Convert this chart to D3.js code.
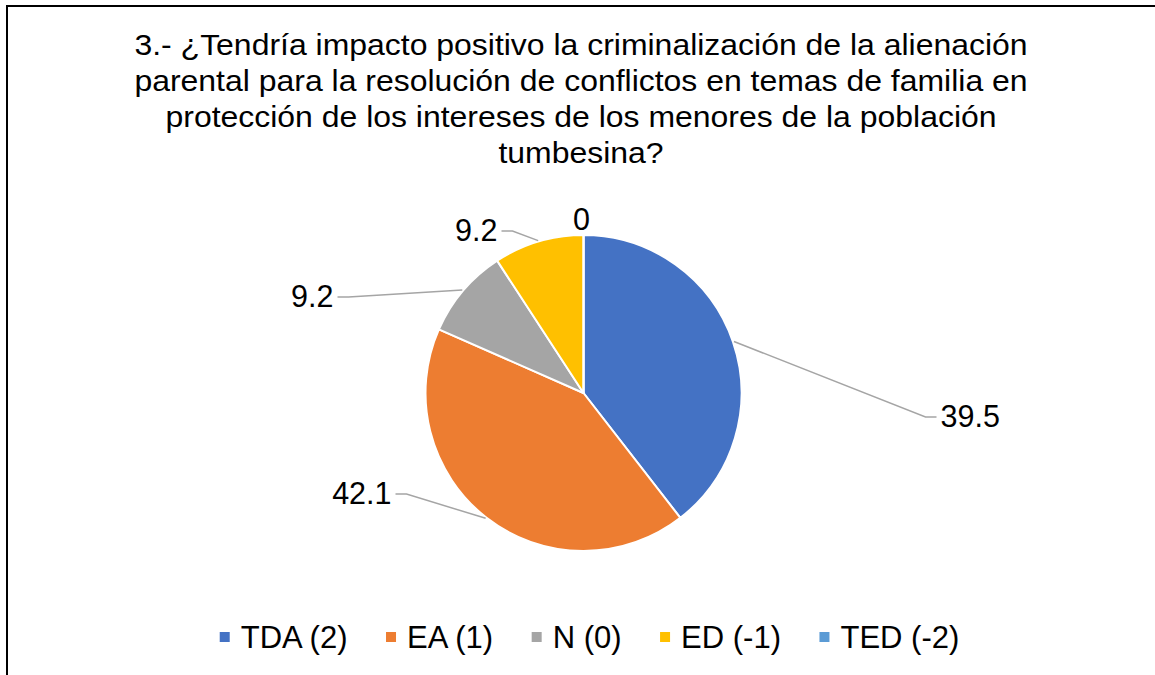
<!DOCTYPE html>
<html>
<head>
<meta charset="utf-8">
<script src="https://cdnjs.cloudflare.com/ajax/libs/d3/7.8.5/d3.min.js"></script>
<style>
    html, body { margin: 0; padding: 0; background: #fff; overflow: hidden; }
    svg { display: block; font-family: "Liberation Sans", Arial, sans-serif; }
</style>
</head>
<body>
<svg class="main" width="1155" height="675"></svg>
<script>
var categories = ["TDA (2)", "EA (1)", "N (0)", "ED (-1)", "TED (-2)"],
    values = [39.5, 42.1, 9.2, 9.2, 0],
    colors = ["#4472C4", "#ED7D31", "#A5A5A5", "#FFC000", "#5B9BD5"],
    titleLines = [
        "3.- ¿Tendría impacto positivo la criminalización de la alienación",
        "parental para la resolución de conflictos en temas de familia en",
        "protección de los intereses de los menores de la población",
        "tumbesina?"
    ];

var layout = {
    width: 1155,
    height: 675,
    cx: 583.5,
    cy: 393,
    radius: 158,
    titleSize: 30,
    titleStretch: 1.065,
    labelSize: 30.5,
    legendSize: 31
};

// label anchor (end of leader) relative to pie centre, per slice
var labelAnchors = [
    { x: 342, y: 24, side: "right" },
    { x: -177, y: 101, side: "left" },
    { x: -235, y: -96, side: "left" },
    { x: -71, y: -162, side: "left" },
    { x: -2, y: -173, side: "none" }
];

var svg = d3.select(".main");

// chart frame, only left & top edges are in view
svg.append("rect")
    .attr("x", 7)
    .attr("y", 6)
    .attr("width", 1300)
    .attr("height", 800)
    .attr("fill", "none")
    .attr("stroke", "#000")
    .attr("stroke-width", 2);

/**
 * Title
 */
svg.append("g")
    .selectAll("text")
    .data(titleLines)
    .enter()
    .append("text")
    .attr("transform", function(d, i) {
        return "translate(581," + (55 + i * 36) + ") scale(" + layout.titleStretch + ",1)";
    })
    .attr("text-anchor", "middle")
    .attr("font-size", layout.titleSize)
    .attr("fill", "#000")
    .text(function(d) { return d; });

/**
 * Pie
 */
var pie = d3.pie()
    .value(function(d) { return d; })
    .sort(null);

var arcs = pie(values);

var arc = d3.arc()
    .innerRadius(0)
    .outerRadius(layout.radius);

var chart = svg.append("g")
    .attr("transform", "translate(" + layout.cx + "," + layout.cy + ")");

chart.selectAll("path.slice")
    .data(arcs)
    .enter()
    .append("path")
    .attr("class", "slice")
    .attr("d", arc)
    .attr("fill", function(d, i) { return colors[i]; })
    .attr("stroke", "#fff")
    .attr("stroke-width", 2)
    .attr("stroke-linejoin", "round");

// leader lines
arcs.forEach(function(d, i) {
    var a = labelAnchors[i];
    if (a.side === "none") return;
    var mid = (d.startAngle + d.endAngle) / 2,
        r = layout.radius + 1,
        sx = Math.sin(mid) * r,
        sy = -Math.cos(mid) * r,
        hx = a.side === "right" ? a.x + 11 : a.x - 11;

    chart.append("path")
        .attr("d", "M" + sx + "," + sy + " L" + a.x + "," + a.y + " L" + hx + "," + a.y)
        .attr("fill", "none")
        .attr("stroke", "#A5A5A5")
        .attr("stroke-width", 1.5);
});

chart.selectAll("text.label")
    .data(arcs)
    .enter()
    .append("text")
    .attr("class", "label")
    .attr("x", function(d, i) {
        var a = labelAnchors[i];
        if (a.side === "right") return a.x + 15;
        if (a.side === "left") return a.x - 15;
        return a.x;
    })
    .attr("y", function(d, i) { return labelAnchors[i].y + 10; })
    .attr("text-anchor", function(d, i) {
        var s = labelAnchors[i].side;
        return s === "right" ? "start" : (s === "left" ? "end" : "middle");
    })
    .attr("font-size", layout.labelSize)
    .attr("fill", "#000")
    .text(function(d) { return d.value; });

/**
 * Legend
 */
var legend = svg.append("g"),
    swatch = 10,
    swatchGap = 11,
    itemGap = 38.5;

var items = legend.selectAll("g.item")
    .data(categories)
    .enter()
    .append("g")
    .attr("class", "item");

items.append("rect")
    .attr("y", -swatch / 2)
    .attr("width", swatch)
    .attr("height", swatch)
    .attr("fill", function(d, i) { return colors[i]; });

items.append("text")
    .attr("x", swatch + swatchGap)
    .attr("y", 10.5)
    .attr("font-size", layout.legendSize)
    .attr("fill", "#000")
    .text(function(d) { return d; });

var offsets = [], x = 0;
items.each(function() {
    offsets.push(x);
    x += swatch + swatchGap + d3.select(this).select("text").node().getComputedTextLength() + itemGap;
});
var total = x - itemGap,
    startX = 589.5 - total / 2;

items.attr("transform", function(d, i) {
    return "translate(" + (startX + offsets[i]) + ",637)";
});
</script>
</body>
</html>
